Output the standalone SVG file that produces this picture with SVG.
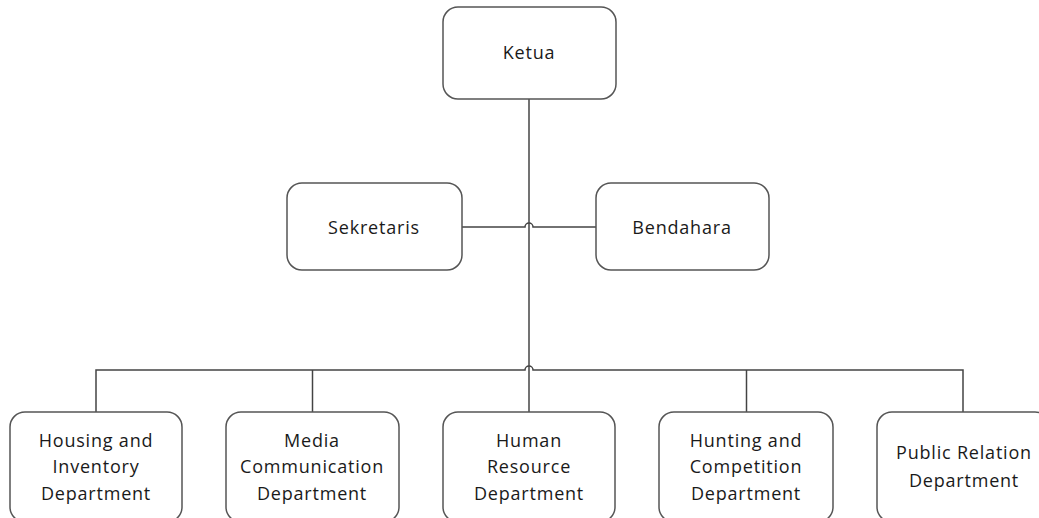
<svg xmlns="http://www.w3.org/2000/svg" width="1039" height="518" viewBox="0 0 1039 518">
<style>
.box{fill:#fff;stroke:#555;stroke-width:1.5}
.t{font-family:"Open Sans","DejaVu Sans",sans-serif;font-size:18px;letter-spacing:0.8px;fill:#1a1a1a;text-anchor:middle}
.ln{fill:none;stroke:#444;stroke-width:1.5}
</style>
<rect width="1039" height="518" fill="#fff"/>
<g id="connectors">
<path class="ln" d="M529 99 V412"/>
<path class="ln" d="M462 227 H525 A4 4 0 0 1 533 227 H596"/>
<path class="ln" d="M96 412 V370 H525 A4 4 0 0 1 533 370 H963 V412"/>
<path class="ln" d="M312.5 370 V412"/>
<path class="ln" d="M746.5 370 V412"/>
</g>
<g id="ketua"><rect class="box" x="443" y="7" width="173" height="92" rx="15"/><text class="t" x="529" y="59">Ketua</text></g>
<g id="sekretaris"><rect class="box" x="287" y="183" width="175" height="87" rx="15"/><text class="t" x="374" y="234">Sekretaris</text></g>
<g id="bendahara"><rect class="box" x="596" y="183" width="173" height="87" rx="15"/><text class="t" x="682" y="234">Bendahara</text></g>
<g id="housing"><rect class="box" x="10" y="412" width="172" height="110" rx="15"/><text class="t" x="96" y="447">Housing and</text><text class="t" x="96" y="473">Inventory</text><text class="t" x="96" y="500">Department</text></g>
<g id="media"><rect class="box" x="226" y="412" width="173" height="110" rx="15"/><text class="t" x="312" y="447">Media</text><text class="t" x="312" y="473">Communication</text><text class="t" x="312" y="500">Department</text></g>
<g id="human"><rect class="box" x="443" y="412" width="172" height="110" rx="15"/><text class="t" x="529" y="447">Human</text><text class="t" x="529" y="473">Resource</text><text class="t" x="529" y="500">Department</text></g>
<g id="hunting"><rect class="box" x="659" y="412" width="174" height="110" rx="15"/><text class="t" x="746" y="447">Hunting and</text><text class="t" x="746" y="473">Competition</text><text class="t" x="746" y="500">Department</text></g>
<g id="public"><rect class="box" x="877" y="412" width="173" height="110" rx="15"/><text class="t" x="964" y="459">Public Relation</text><text class="t" x="964" y="487">Department</text></g>
</svg>
